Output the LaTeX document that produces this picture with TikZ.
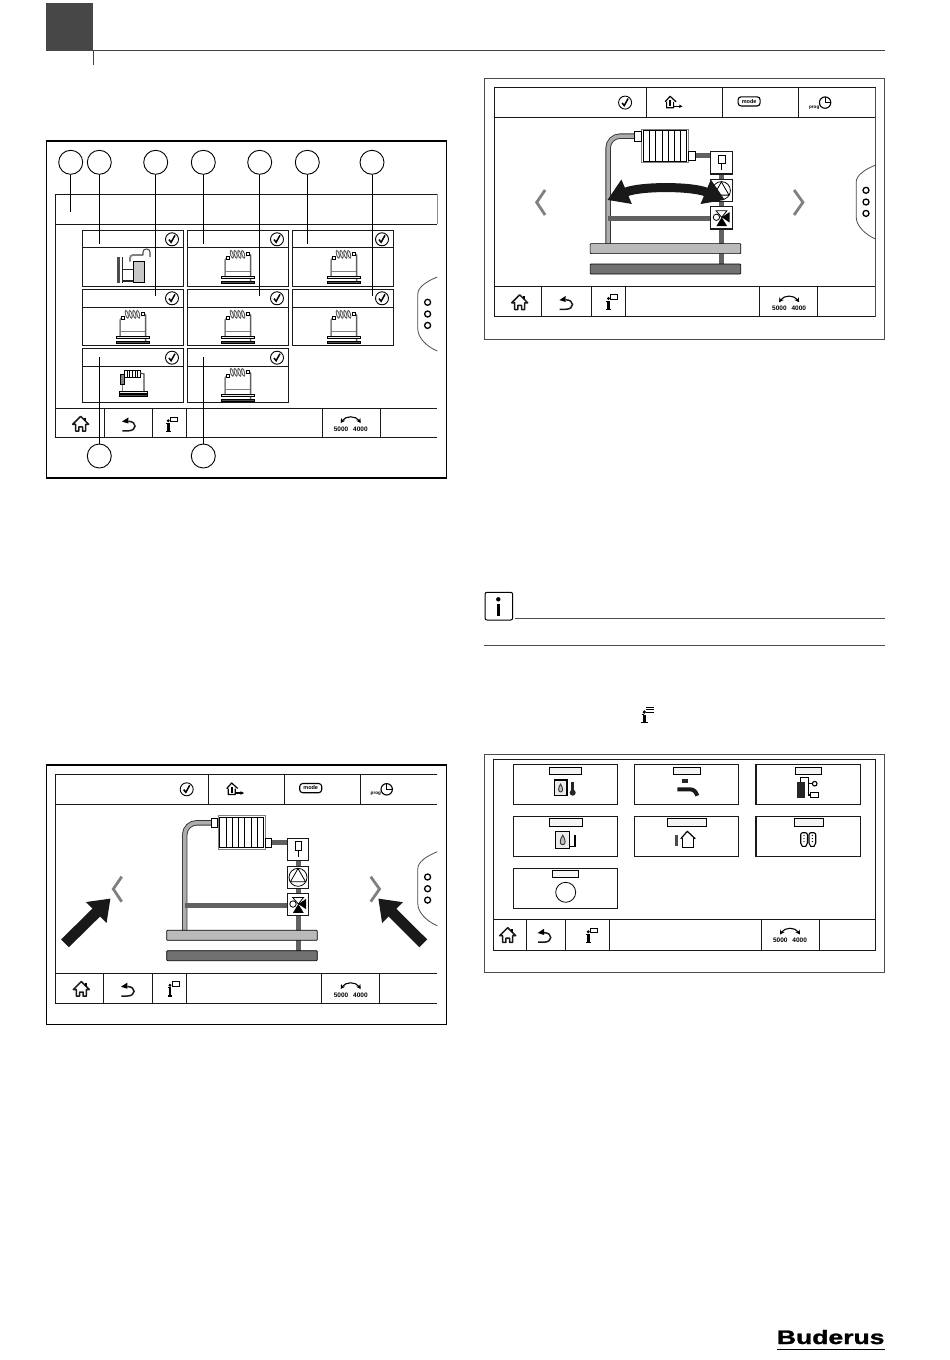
\documentclass[tikz,border=0pt]{standalone}
\usepackage{fontspec}
\setmainfont{Liberation Sans}
\newfontfamily\logofont{Liberation Sans}[UprightFont=* Bold, FakeBold=1.2]
\usetikzlibrary{arrows.meta}

\definecolor{pipelight}{gray}{0.68}
\definecolor{pipedark}{gray}{0.38}
\definecolor{chevron}{gray}{0.5}

\tikzset{
    box/.style={line width=1.1pt, black!90},
    frame/.style={line width=1pt, black!70},
    icon/.style={line width=1.5pt, black!90},
    callout/.style={circle, draw, line width=0.9pt, minimum size=24pt, inner sep=0pt},
    leader/.style={line width=0.9pt},
    bigarrow/.style={line width=11pt, black!90, -{Triangle[width=28pt,length=20pt]}},
    pics/check/.style={code={
        \draw[line width=0.9pt] (0,0) circle (6.5);
        \draw[line width=1.5pt] (-3,0.3) -- (-0.9,3) -- (3,-4);
    }},
    pics/home/.style={code={
        \draw[icon, line join=round] (-8,0) -- (0,-8) -- (8,0) -- (5,0) -- (5,6.7) -- (1.8,6.7) -- (1.8,2.5)
            -- (-1.8,2.5) -- (-1.8,6.7) -- (-5,6.7) -- (-5,0) -- cycle;
        \draw[line width=1.5pt] (4.5,-6.5) -- (4.5,-3.5);
    }},
    pics/back/.style={code={
        \fill[black] (-7.3,-2.7) -- (-1,-6.9) -- (-1,-0.8) -- cycle;
        \draw[icon] (-1,-3) .. controls (8,-3) and (8,6.5) .. (-1,6.5) -- (-7,6.5);
    }},
    pics/info/.style={code={
        \fill (-1.7,-3.3) circle (1.6);
        \draw[line width=2.7pt] (-1.7,-1) -- (-1.7,7);
        \draw[line width=1.4pt] (-4,7.4) -- (0.6,7.4);
        \draw[line width=1pt] (-3.8,-0.6) -- (-0.5,-0.6);
        \draw[line width=1pt] (0.5,-7) rectangle (7.5,-2.5);
    }},
    pics/speed/.style={code={
        \draw[line width=1.1pt, {Stealth[length=4.5pt,width=5pt]}-{Stealth[length=4.5pt,width=5pt]}]
            (-10,-0.5) .. controls (-5,-8) and (5,-8) .. (10,-0.5);
        \node[inner sep=0pt] (speedhigh) at (-9.7,5.3) {\fontsize{6.5}{6.5}\selectfont\bfseries 5000};
        \node[inner sep=0pt] (speedlow) at (9.7,5.3) {\fontsize{6.5}{6.5}\selectfont\bfseries 4000};
    }},
    pics/sidetab/.style={code={
        % origin sits on the screen edge, at the middle of the tab
        \draw[line width=0.8pt, black!70] (0,-37) .. controls (-10,-33) and (-19.5,-27) .. (-19.5,-20)
            -- (-19.5,15) .. controls (-19.5,24) and (-10,33) .. (0,37);
        \foreach \dy in {-11.7,0,11.4}
            \draw[line width=1.3pt] (-9.7,\dy) circle (3);
    }},
    pics/flame/.style={code={
        \draw[line width=0.9pt, black!80, fill=black!25] (0,4.4) .. controls (-3.2,4) and (-2.8,0) .. (0,-4.4)
            .. controls (2.8,0) and (3.2,4) .. (0,4.4);
    }},
    % one small system drawing, origin at the top left of its upper bar
    pics/minisystem/.style={code={
        \draw[line width=1.5pt, black!50] (3.7,0) -- (3.7,-16) -- (5.4,-18.5);
        \draw[line width=1.4pt, black!50] (3.7,-4.6) -- (29.4,-4.6);
        \draw[line width=1.5pt, pipedark] (28,-22) -- (29.4,-21) -- (29.4,6);
        \foreach \i in {0,...,3}
            \draw[line width=0.9pt, black!65, rotate around={15:(10.5+\i*3.8,-22)}] (10.5+\i*3.8,-22) ellipse (1.3 and 4);
        \draw[line width=0.9pt, fill=white] (5.4,-20) rectangle (8,-17.3);
        \draw[line width=0.9pt, fill=white] (24.7,-24) rectangle (28,-20.6);
        \draw[line width=0.8pt, fill=black!8] (0,0) rectangle (33.4,2.4);
        \draw[line width=0.8pt, fill=black!70] (0,4.7) rectangle (33.4,7.4);
    }},
    % header strip of the two system screens, in the coordinates of the lower one
    pics/screen/.style={code={
        \draw[box] (437.3,774.3) -- (55.7,774.3) -- (55.7,1003.3) -- (437.3,1003.3);
        \draw[box] (55.7,804.3) -- (437.3,804.3);
        \draw[box] (55.7,973.3) -- (437.3,973.3);
        \foreach \vx in {208.3,284.3,360.3}
            \draw[box] (\vx,774.3) -- (\vx,804.3);
        \foreach \vx in {103.3,152.7,186.7,321.3,379.3}
            \draw[box] (\vx,973.3) -- (\vx,1003.3);
        \pic at (186.7,789.3) {check};
        % house with i
        \draw[line width=1.2pt, line join=round] (226.7,788.5) -- (231.7,783) -- (237.7,788.5) (228.2,788.5) -- (228.2,794.5) -- (235.2,794.5) -- (235.2,788.5);
        \draw[line width=1.8pt] (231.7,787) -- (231.7,792.5);
        \draw[line width=1.2pt, -{Stealth[length=3.5pt,width=3.5pt]}] (235.2,793) -- (244,793);
        % mode
        \draw[line width=1.1pt, rounded corners=3pt] (299.7,783.5) rectangle (321.7,792.7);
        \node[fill=white, inner sep=0.3pt] (modetext) at (310.7,788) {\fontsize{5.5}{5.5}\selectfont\bfseries mode};
        % prog
        \draw[line width=1.1pt] (386.7,789.3) circle (5.7);
        \draw[line width=1.1pt] (386.7,784) -- (386.7,789.3) -- (391.5,789.3);
        \node[fill=white, inner sep=0.2pt] (progtext) at (375.8,794.2) {\fontsize{4.6}{4.6}\selectfont\bfseries prog};
        \pic at (81.3,989.5) {home};
        \pic at (128.3,989.5) {back};
        \pic at (171.7,988.5) {info};
        \pic at (350.7,989.5) {speed};
    }},
    % heating circuit, chevrons included
    pics/circuit/.style={code={
        \draw[line width=2.8pt, chevron] (121.7,876.7) -- (113.3,889) -- (121.7,901.7);
        \draw[line width=2.8pt, chevron] (370.7,876.7) -- (379.5,889) -- (370.7,901.7);
        % pipes
        \draw[line width=5.4pt, black!80, rounded corners=12pt] (184.7,931) -- (184.7,822.8) -- (212,822.8);
        \draw[line width=3.6pt, pipelight, rounded corners=12pt] (184.7,931) -- (184.7,822.8) -- (212,822.8);
        \draw[line width=5pt, pipedark] (271,842) -- (288,842);
        \draw[line width=5pt, pipedark] (185,905) -- (288,905);
        \draw[line width=5pt, pipedark] (298,860) -- (298,951);
        % radiator
        \draw[line width=1pt, black!50] (218.3,815.7) rectangle (265,849.3);
        \draw[line width=1pt] (219.8,817.2) rectangle (263.5,847.8);
        \foreach \i in {1,...,6}
            \draw[line width=0.8pt] (219.8+\i*6.24,817.2) -- (219.8+\i*6.24,847.8);
        \draw[line width=0.9pt, fill=white] (211.3,818.3) rectangle (217.7,827.7);
        \draw[line width=0.9pt, fill=white] (265,838.3) rectangle (271.7,847.3);
        % actuator
        \draw[box, fill=white] (287.3,838.3) rectangle (308.7,860.7);
        \draw[line width=0.9pt] (295,841.7) rectangle (301.7,850);
        \draw[line width=1.5pt] (298.3,850) -- (298.3,857);
        % pump
        \draw[box, fill=white] (287.3,866.3) rectangle (308.7,888.3);
        \draw[line width=0.8pt] (298,877.3) circle (9);
        \draw[line width=0.8pt] (298,868.6) -- (290.4,881.8) -- (305.6,881.8) -- cycle;
        % valve
        \draw[box, fill=white] (287.3,893.3) rectangle (308.7,915.7);
        \draw[line width=0.8pt] (293,904) ellipse (3.2 and 3.2);
        \draw[line width=0.8pt, fill=white] (292.7,897.5) -- (303.5,897.5) -- (298.3,904) -- cycle;
        \fill (306.2,898.8) -- (306.2,909.2) -- (298.3,904) -- cycle;
        \fill (293,912.8) -- (303.7,912.8) -- (298.3,904) -- cycle;
        % bars
        \draw[line width=0.7pt, fill=pipelight!85, rounded corners=0.8pt] (166.7,930.3) rectangle (317.3,940.3);
        \draw[line width=0.7pt, fill=pipedark!90, rounded corners=0.8pt] (166.7,950.7) rectangle (317.3,960.7);
    }}
}

\begin{document}
\begin{tikzpicture}[x=1pt,y=-1pt]
    \fill[white] (0,0) rectangle (950,1360);
    \useasboundingbox (0,0) rectangle (950,1360);

    % Page Head
    \fill[black!72] (45.7,3.3) rectangle (93.3,50.7);
    \draw[line width=1pt, black!75] (93.3,50.7) -- (885,50.7);
    \draw[line width=1pt, black!75] (93.3,50.7) -- (93.3,65);

    % Menu Screen
    \draw[line width=1.1pt] (46.7,141) rectangle (446.7,478);
    \draw[box] (437.3,194.3) -- (55.7,194.3) -- (55.7,437.3) -- (437.3,437.3);
    \draw[line width=0.7pt, black!45] (437.3,194.3) -- (437.3,224.3);
    \draw[box] (55.7,224.3) -- (437.3,224.3);
    \draw[box] (55.7,408.3) -- (437.3,408.3);
    \foreach \vx in {104.3,152.3,186.3,322.3,380.3}
        \draw[box] (\vx,408.3) -- (\vx,437.3);

    % Menu Tiles
    \foreach \tt/\tm/\tb/\collist in {230.3/247.3/286.7/{82.3,187.3,292.3},
                                      289.3/307.3/345.3/{82.3,187.3,292.3},
                                      348.7/366.7/402.3/{82.3,187.3}}
        \foreach \tx in \collist {
            \draw[box] (\tx,\tt) rectangle (\tx+101.4,\tb);
            \draw[box] (\tx,\tm) -- (\tx+101.4,\tm);
            \pic at (\tx+89.7,\tt+9) {check};
        };

    % Tile Drawings
    \foreach \px/\py in {221.3/276.3, 327.3/276.3, 116.3/336.3, 221.3/336.3, 327.3/336.3, 221.3/394.3}
        \pic at (\px,\py) {minisystem};

    % -- boiler tile
    \fill[black!70] (117.3,257.3) rectangle (120,283.3);
    \fill[black!85] (121.7,257.3) rectangle (123.4,283.3);
    \draw[line width=1.6pt, black!85] (123.4,269.3) -- (133.3,269.3);
    \draw[line width=1.6pt, black!85] (123.4,280.7) -- (133.3,280.7);
    \draw[line width=1.8pt, black!50, rounded corners=3pt] (130,261.7) -- (130,255) -- (143,255);
    \draw[line width=0.8pt, fill=black!22] (133.3,261.7) rectangle (144.7,282.3);
    \draw[line width=1.1pt, black!70] (143,255) -- (143,252) .. controls (143,248) and (150,248) .. (150,252) -- (150,257);

    % -- radiator tile
    \draw[line width=0.8pt] (124.7,370) rectangle (140,377.7);
    \foreach \i in {1,...,5}
        \draw[line width=0.8pt] (124.7+\i*2.55,370) -- (124.7+\i*2.55,377.7);
    \draw[line width=1.2pt, black!70] (140,373) -- (144,374) -- (144,391.3);
    \draw[line width=1.4pt, black!50] (122.3,384) -- (122.3,391.3);
    \draw[line width=0.8pt, fill=black!50] (120,374) rectangle (124.7,384.3);
    \draw[line width=0.8pt, fill=black!8] (119,391.3) rectangle (147.7,393.5);
    \draw[line width=0.8pt, fill=black!70] (119,394.7) rectangle (147.7,396.7);

    % Menu Side Tab And Bar Icons
    \pic at (437.3,314) {sidetab};
    \pic at (80.7,424.3) {home};
    \pic at (129.3,424.3) {back};
    \pic at (170,424) {info};
    \pic at (350.7,423.5) {speed};

    % Callouts
    \foreach \cname/\cx/\cy/\ey in {a/70.7/162.3/212.3, b/99.3/162.3/244.3, c/155.7/162.3/296.3,
                                    d/203.3/162.3/244.3, e/259.7/162.3/296.3, f/307.3/162.3/244.3,
                                    g/372/162.3/296.3, h/99.3/456/356.7, i/203.3/456/356.7} {
        \node[callout] (call\cname) at (\cx,\cy) {};
        \coordinate (end\cname) at (\cx,\ey);
        \draw[leader] (call\cname) -- (end\cname);
    }

    % System Screen Left
    \draw[line width=1.1pt] (46.7,765) rectangle (446.7,1024.3);
    \pic at (0,0) {screen};
    \pic at (0,0) {circuit};
    \pic at (437.3,888.7) {sidetab};
    \coordinate (leftfoot) at (65,943.3);
    \coordinate (lefttip) at (110.5,898.5);
    \coordinate (rightfoot) at (423.3,943.3);
    \coordinate (righttip) at (378.3,898.5);
    \draw[bigarrow] (leftfoot) -- (lefttip);
    \draw[bigarrow] (rightfoot) -- (righttip);

    % System Screen Right
    \draw[frame] (484.7,78.3) rectangle (884.7,339.3);
    \pic at (438.4,-686.7) {screen};
    \pic at (423.4,-686.7) {circuit};
    \draw[line width=0.8pt, black!70] (875.7,87.7) -- (875.7,316.6);
    \pic at (875.7,202) {sidetab};
    \coordinate (swingleft) at (607.3,200);
    \coordinate (swingright) at (725,200);
    \draw[line width=9pt, black!90, {Triangle[width=25pt,length=21pt]}-{Triangle[width=25pt,length=21pt]}]
        (swingleft) .. controls (640,186) and (692,186) .. (swingright);

    % Note Head
    \draw[line width=1pt, rounded corners=2pt] (485,592.3) rectangle (512.7,620);
    \fill (498.3,599.3) circle (2.2);
    \draw[line width=3.6pt] (498.3,603.5) -- (498.3,615.5);
    \draw[line width=1pt, black!70] (515,618.3) -- (885,618.3);
    \draw[line width=1pt, black!70] (484,645.3) -- (885,645.3);

    % Info Sign In Text
    \fill (644.3,712) circle (1.8);
    \draw[line width=3pt] (644.3,715) -- (644.3,722);
    \draw[line width=1.4pt] (641.3,722.6) -- (647.5,722.6);
    \draw[line width=1.3pt] (641.5,714.2) -- (644.3,714.2);
    \foreach \ly in {707,709.5,712}
        \draw[line width=0.9pt] (645.5,\ly) -- (654.3,\ly);

    % Overview Screen
    \draw[frame] (484.7,754.7) rectangle (884.7,972.7);
    \draw[box] (493.3,759.3) rectangle (875.7,950.3);
    \draw[box] (493.3,919.3) -- (875.7,919.3);
    \foreach \vx in {526.3,565.7,609.3,761.3,819.3}
        \draw[box] (\vx,919.3) -- (\vx,950.3);
    \foreach \tx/\ty/\la/\lb/\lt/\ll in {513.3/764.3/549.3/581.7/767.3/774.7, 634.3/764.3/673.3/700.7/767.3/774.7,
                                         756/764.3/795.3/821.7/767.3/774.7, 513.3/816.3/549.3/582.7/818.3/826.7,
                                         634.3/816.3/667.3/706.7/818.3/826.7, 756/816.3/794.3/823.7/818.3/826.7,
                                         513.3/868.3/552.3/578.7/870.3/877.7} {
        \draw[box] (\tx,\ty) rectangle (\tx+104.5,\ty+40.4);
        \draw[line width=0.9pt, fill=black!4] (\la,\lt) rectangle (\lb,\ll);
    }

    % -- heat source and temperature
    \draw[line width=1.1pt, fill=black!8] (554.3,780) rectangle (567,795.3);
    \pic[scale=0.9] at (560.6,788) {flame};
    \draw[line width=3.4pt, black!85] (572.7,781.5) -- (572.7,792);
    \fill[black!85] (572.7,792.7) circle (3);

    % -- tap
    \fill[black!85] (682,779.3) rectangle (688,783.3);
    \draw[line width=4pt, black!90] (677.3,789.3) -- (690,789.3) .. controls (694,789.3) and (696,792) .. (697.3,795.7);

    % -- cylinder and accessories
    \fill[black!85] (797.3,781.7) rectangle (804.7,798);
    \draw[line width=1.1pt] (800.7,782) -- (800.7,777.5) -- (808.3,777.5) -- (808.3,795);
    \draw[line width=1.1pt] (808.3,783.7) -- (812.4,783.7);
    \draw[line width=1.1pt] (808.3,795) -- (810.3,795);
    \draw[line width=1.1pt] (814.7,783.7) circle (2.3);
    \draw[line width=1.1pt] (810.3,792.3) rectangle (818.7,797.7);

    % -- heat source and flue
    \draw[line width=1.1pt, fill=black!8] (555.7,831.7) rectangle (569.7,848.3);
    \pic[scale=1.1] at (562.7,840) {flame};
    \draw[line width=1.1pt] (569.7,846.7) -- (575,846.7) -- (575,835);

    % -- house
    \draw[line width=1.2pt, line join=round] (680.7,838.8) -- (687.3,831.3) -- (695.3,838.8);
    \draw[line width=1.2pt] (682.5,837.5) -- (682.5,847.3) -- (693.5,847.3) -- (693.5,837.5);
    \draw[line width=3pt, black!70] (676.7,835) -- (676.7,846);

    % -- tubes
    \foreach \tubex in {800.7,809} {
        \draw[line width=1.1pt, rounded corners=2pt] (\tubex,832.7) -- (\tubex,845) -- (\tubex+3.3,847.5) -- (\tubex+6.7,845) -- (\tubex+6.7,832.7) -- cycle;
        \foreach \doty in {835.5,838.5,841.5}
            \fill (\tubex+3.3,\doty) circle (0.7);
    }

    % -- round tile
    \draw[line width=0.8pt] (565.7,892.3) circle (10);

    % -- overview bar
    \pic at (507.7,935.7) {home};
    \pic at (545,935.7) {back};
    \pic at (590,935) {info};
    \pic at (790,935) {speed};

    % Logo
    \node[inner sep=0pt, xscale=1.36, anchor=base] (logo) at (830.7,1344) {\fontsize{19.5}{19.5}\logofont Buderus};
    \draw[line width=0.9pt] (776.7,1349) -- (884.5,1349);
\end{tikzpicture}
\end{document}
